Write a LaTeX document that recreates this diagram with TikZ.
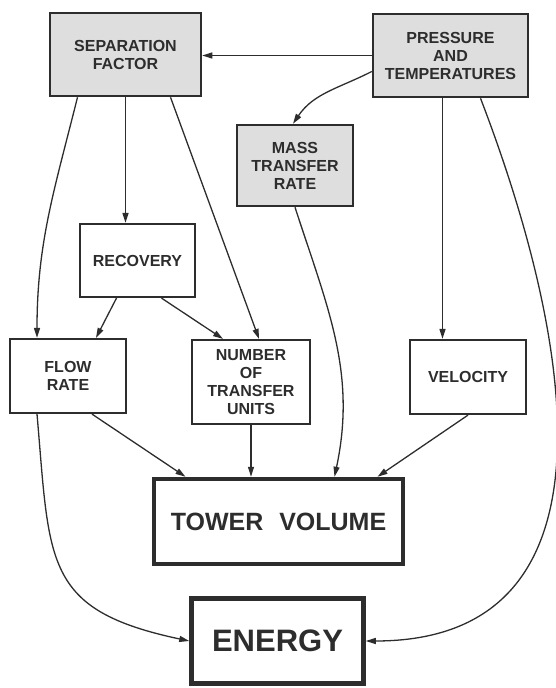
\documentclass[tikz,border=0pt]{standalone}
\usepackage{fontspec}
\setmainfont{Liberation Sans}
\usetikzlibrary{arrows.meta, calc}
\definecolor{inkgray}{RGB}{45, 45, 45}
\definecolor{shadegray}{RGB}{222, 222, 222}

\begin{document}
\begin{tikzpicture}[x=1pt, y=1pt,
    box/.style={draw=inkgray, line width=2.2pt, text=inkgray, align=center, inner sep=0pt,
        font=\fontsize{16}{18}\selectfont\bfseries},
    shaded/.style={box, fill=shadegray, line width=2.5pt},
    bigbox/.style={box, line width=4.5pt},
    link/.style={draw=inkgray, line width=1.3pt, -{Triangle[length=10pt, width=6pt]}}]
    \useasboundingbox (0,0) rectangle (556,-688);

    % Shaded boxes
    \node[shaded, minimum width=151, minimum height=83] (sf) at (125.5,-54.5) {SEPARATION\\FACTOR};
    \node[shaded, minimum width=155, minimum height=83] (pt) at (450.5,-55.5) {PRESSURE\\AND\\TEMPERATURES};
    \node[shaded, minimum width=116, minimum height=81] (mtr) at (295,-165.5) {MASS\\TRANSFER\\RATE};

    % Middle boxes
    \node[box, minimum width=115, minimum height=73] (rec) at (137.5,-260.5) {RECOVERY};
    \node[box, minimum width=116, minimum height=74] (fr) at (68,-376) {FLOW\\RATE};
    \node[box, minimum width=118, minimum height=84] (ntu) at (251,-382) {NUMBER\\OF\\TRANSFER\\UNITS};
    \node[box, minimum width=116, minimum height=74] (vel) at (468,-377) {VELOCITY};

    % Result boxes
    \node[bigbox, minimum width=249, minimum height=85, font=\fontsize{25}{30}\selectfont\bfseries]
        (tv) at (278.5,-521.5) {TOWER\hspace{9pt} VOLUME};
    \node[bigbox, minimum width=172, minimum height=85, font=\fontsize{31}{36}\selectfont\bfseries]
        (en) at (277.5,-641) {ENERGY};

    % Links from the top
    \draw[link] (pt.west) -- (pt.west -| sf.east);
    \draw[link] ([yshift=-16pt]pt.west) to[out=207, in=56] ([xshift=-2pt]mtr.north);
    \draw[link] ([xshift=-48pt]sf.south) to[out=-104, in=90] ([xshift=-31pt]fr.north);
    \draw[link] (sf.south) -- (sf.south |- rec.north);
    \draw[link] ([xshift=45pt]sf.south) -- ([xshift=8pt]ntu.north);
    \draw[link] ([xshift=-8pt]pt.south) -- ([xshift=-8pt]pt.south |- vel.north);
    \draw[link] ([xshift=30pt]pt.south) to[out=-69, in=0, looseness=1.2] (en.east);

    % Links from recovery
    \draw[link] ([xshift=-21pt]rec.south) -- ([xshift=28pt]fr.north);
    \draw[link] ([xshift=24pt]rec.south) -- ([xshift=-28pt]ntu.north);

    % Links to tower volume and energy
    \draw[link] ([xshift=24pt]fr.south) -- ([xshift=-93pt]tv.north);
    \draw[link] (ntu.south) -- (ntu.south |- tv.north);
    \draw[link] (mtr.south) to[out=-72, in=78] ([xshift=56pt]tv.north);
    \draw[link] (vel.south) -- ([xshift=99pt]tv.north);
    \draw[link] ([xshift=-31pt]fr.south) to[out=-85, in=168, looseness=1.4] (en.west);
\end{tikzpicture}
\end{document}
